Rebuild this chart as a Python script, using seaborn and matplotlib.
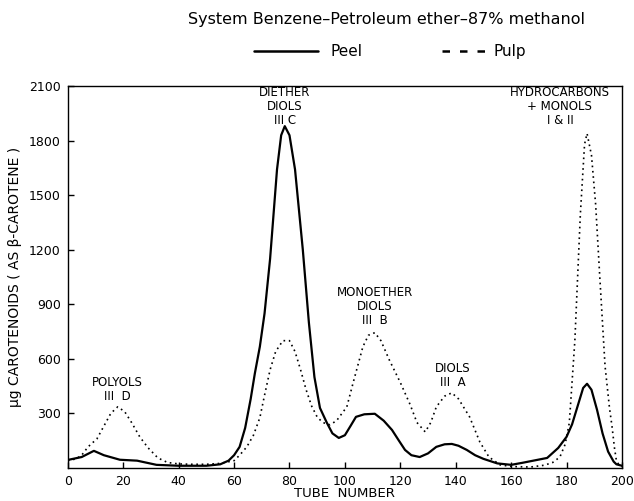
import numpy as np
import pandas as pd
import seaborn as sns
import matplotlib.pyplot as plt
from matplotlib.lines import Line2D

# ---- data ----
peel_x = [0, 5, 9.4, 13, 18.8, 25, 32, 40, 50, 55, 58, 60, 62, 64, 66, 67.5, 69.3, 71, 73,
          75.5, 77, 78.3, 80, 82, 84.8, 87, 89, 91, 93.5, 95.5, 97.8, 100, 102, 104, 107,
          110.8, 114, 117, 119.5, 121.7, 124, 127, 130, 133, 136, 138.6, 141, 144, 147,
          150, 155, 160, 164, 168, 173, 177, 180, 182, 184, 186, 187.4, 189, 191, 193,
          195, 197, 198, 200]
peel_y = [44, 60, 94, 70, 45, 40, 17, 12, 12, 20, 40, 70, 116, 220, 380, 520, 667, 850, 1150,
          1642, 1830, 1880, 1830, 1642, 1202, 800, 500, 330, 248, 190, 165, 180, 230, 281, 295,
          298, 260, 209, 150, 99, 70, 60, 80, 116, 130, 132, 122, 99, 70,
          50, 25, 17, 28, 40, 55, 110, 171, 240, 340, 440, 463, 430, 320, 190,
          90, 35, 20, 12]

pulp_x = [0, 3, 5, 7.3, 10.5, 13, 15.5, 18, 20.5, 23, 26, 29, 32.5, 36, 40, 45, 50, 55, 60,
          62, 64.6, 67, 69.3, 71, 73, 75, 77.6, 80, 82, 84, 86, 88, 90, 92, 94.6, 97, 100.7,
          103, 106.5, 108.5, 110.8, 113, 116, 120, 123.5, 126, 129, 131, 133, 136, 138.6,
          141, 145, 148.7, 152, 156, 160, 167, 172, 175, 177.6, 179.5, 181, 183, 185, 186.5,
          187.4, 189, 190.5, 192, 193.9, 195.5, 196.4, 197.3, 198, 199, 200]
pulp_y = [40, 50, 70, 116, 160, 230, 300, 336, 310, 250, 170, 110, 55, 30, 22, 20, 20, 25, 40,
          70, 116, 180, 276, 400, 540, 640, 700, 700, 640, 540, 430, 340, 280, 250, 237, 260, 336,
          470, 667, 730, 744, 700, 595, 470, 350, 250, 198, 250, 336, 395, 413,
          380, 281, 143, 60, 17, 8, 5, 15, 30, 60, 130, 248, 700, 1400, 1780,
          1840, 1720, 1450, 1050, 560, 330, 230, 110, 40, 15, 10]

y_ticks = [300, 600, 900, 1200, 1500, 1800, 2100]
x_ticks = [0, 20, 40, 60, 80, 100, 120, 140, 160, 180, 200]

labels = [  # (text, x, y)
    ("POLYOLS\nIII  D", 17.7, 430),
    ("DIETHER\nDIOLS\nIII C", 78.3, 1990),
    ("MONOETHER\nDIOLS\nIII  B", 110.8, 890),
    ("DIOLS\nIII  A", 139, 510),
    ("HYDROCARBONS\n+ MONOLS\nI & II", 177.6, 1990),
]

df = pd.concat([
    pd.DataFrame({"tube": peel_x, "value": peel_y, "sample": "Peel"}),
    pd.DataFrame({"tube": pulp_x, "value": pulp_y, "sample": "Pulp"}),
])

sns.set_theme(style="white")
plt.rcParams['font.family'] = ['DejaVu Sans']

fig = plt.figure(figsize=(6.34, 5.01), dpi=100)
ax = fig.add_axes([0.107, 0.066, 0.874, 0.762])

sns.lineplot(data=df[df["sample"] == "Peel"], x="tube", y="value", ax=ax,
             color="black", lw=1.6, sort=False, legend=False)
sns.lineplot(data=df[df["sample"] == "Pulp"], x="tube", y="value", ax=ax,
             color="black", lw=1.2, sort=False, legend=False, linestyle=(0, (1, 2.2)))

ax.set_xlim(0, 200)
ax.set_ylim(0, 2100)
ax.set_xticks(x_ticks)
ax.set_yticks(y_ticks)
ax.tick_params(direction="in", length=4, width=1, colors="black", labelsize=9,
               bottom=True, left=True, pad=5)
for s in ax.spines.values():
    s.set_color("black")
    s.set_linewidth(1.0)

ax.set_xlabel("TUBE  NUMBER", fontsize=9.5, color="black")
ax.xaxis.set_label_coords(0.5, -0.066)
ax.xaxis.label.set_va("center")
ax.set_ylabel("µg CAROTENOIDS ( AS β-CAROTENE )", fontsize=10, color="black")
ax.yaxis.set_label_coords(-0.095, 0.5)
ax.yaxis.label.set_va("center")

for txt, x, y in labels:
    ax.text(x, y, txt, ha="center", va="center", fontsize=8.5, linespacing=1.1, color="black")

fig.text(0.609, 0.962, "System Benzene–Petroleum ether–87% methanol", ha="center", va="center",
         fontsize=11.5, color="black")
fig.add_artist(Line2D([254/634, 318/634], [0.898, 0.898], color="black", lw=1.8))
fig.text(330/634, 0.898, "Peel", ha="left", va="center", fontsize=11, color="black")
fig.add_artist(Line2D([442/634, 487/634], [0.898, 0.898], color="black", lw=1.8,
                      linestyle=(0, (3, 4))))
fig.text(493/634, 0.898, "Pulp", ha="left", va="center", fontsize=11, color="black")

fig.savefig("out.png", dpi=100, facecolor="white")
